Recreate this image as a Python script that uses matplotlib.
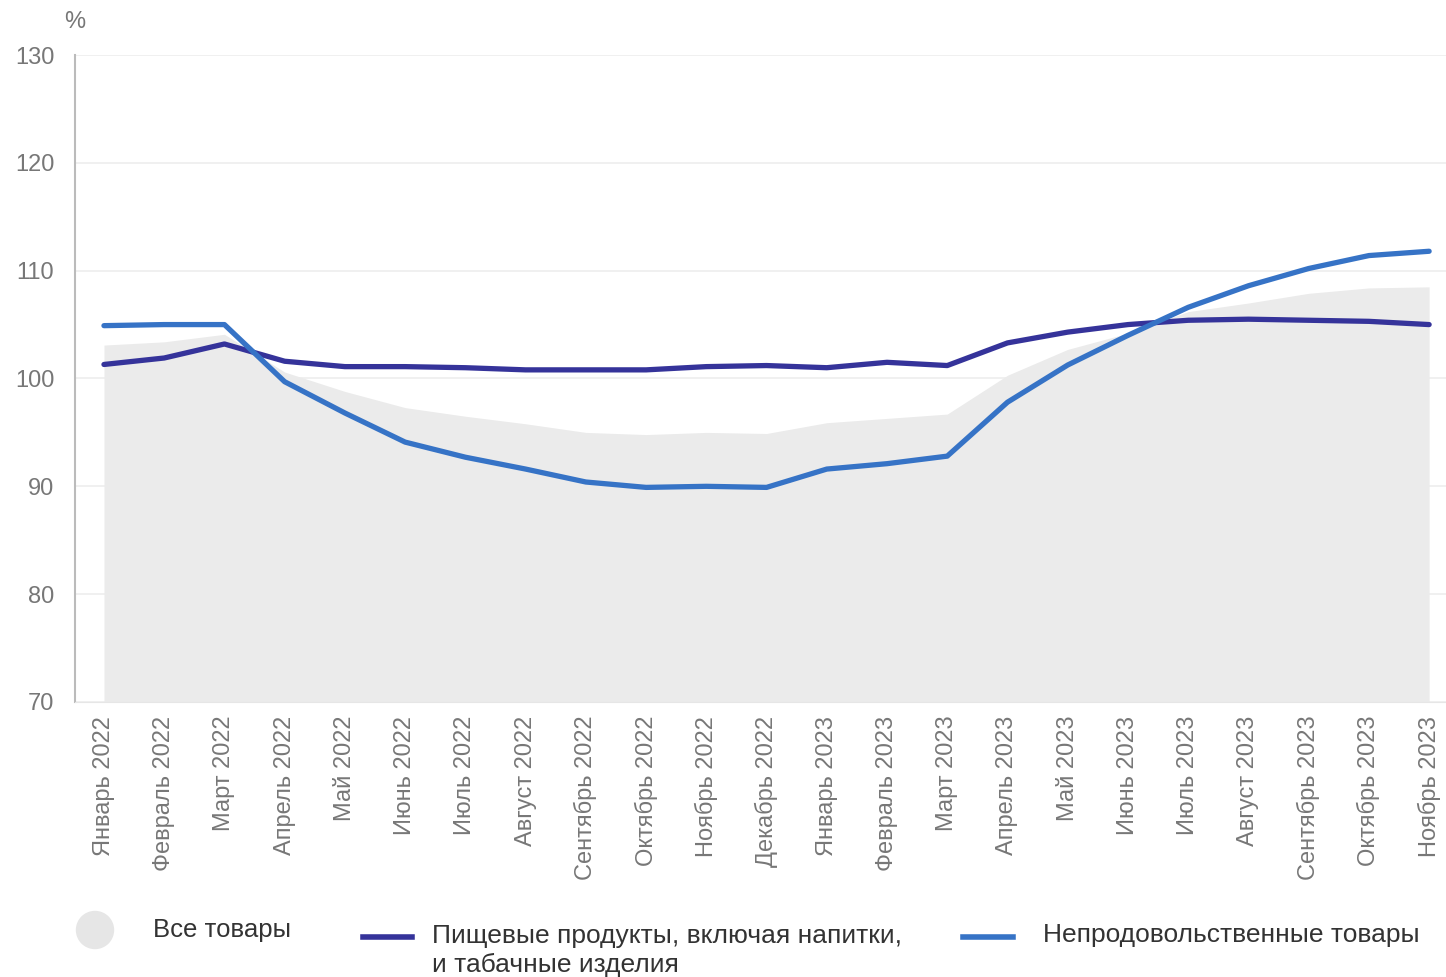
import matplotlib.pyplot as plt
from matplotlib.lines import Line2D
from matplotlib.patches import Ellipse

plt.rcParams['font.family'] = ['Liberation Sans', 'DejaVu Sans']

# Месяцы
meses = ['Январь 2022', 'Февраль 2022', 'Март 2022', 'Апрель 2022', 'Май 2022',
         'Июнь 2022', 'Июль 2022', 'Август 2022', 'Сентябрь 2022', 'Октябрь 2022',
         'Ноябрь 2022', 'Декабрь 2022', 'Январь 2023', 'Февраль 2023', 'Март 2023',
         'Апрель 2023', 'Май 2023', 'Июнь 2023', 'Июль 2023', 'Август 2023',
         'Сентябрь 2023', 'Октябрь 2023', 'Ноябрь 2023']

# Все товары (область)
todos = [103.1, 103.4, 104.1, 100.6, 98.8, 97.3, 96.5, 95.8, 95.0, 94.8, 95.0, 94.9,
         95.9, 96.3, 96.7, 100.3, 102.7, 104.2, 106.2, 107.0, 107.9, 108.4, 108.5]

# Пищевые продукты
alimentos = [101.3, 101.9, 103.2, 101.6, 101.1, 101.1, 101.0, 100.8, 100.8, 100.8,
             101.1, 101.2, 101.0, 101.5, 101.2, 103.3, 104.3, 105.0, 105.4, 105.5,
             105.4, 105.3, 105.0]

# Непродовольственные товары
no_alimentos = [104.9, 105.0, 105.0, 99.7, 96.8, 94.1, 92.7, 91.6, 90.4, 89.9, 90.0,
                89.9, 91.6, 92.1, 92.8, 97.8, 101.25, 104.0, 106.6, 108.6, 110.2,
                111.4, 111.8]

c_area = '#ebebeb'
c_food = '#35339a'
c_nonfood = '#3673c6'
c_tick = '#777777'
c_text = '#333333'

fig = plt.figure(figsize=(14.46, 9.77), dpi=100)
ax = fig.add_axes([0.0519, 0.2815, 0.9481, 0.6622])

x = list(range(len(meses)))
ax.fill_between(x, 70, todos, color=c_area, linewidth=0, zorder=1)
ax.plot(x, alimentos, color=c_food, linewidth=3.8, solid_capstyle='round', zorder=3)
ax.plot(x, no_alimentos, color=c_nonfood, linewidth=3.8, solid_capstyle='round', zorder=4)

ax.set_ylim(70, 130)
ax.set_xlim(-0.48, 22.28)
ax.set_yticks(range(70, 131, 10))
ax.grid(axis='y', color='#eeeeee', linewidth=1.2, zorder=0)
ax.set_axisbelow(True)
ax.set_xticks(x)
ax.set_xticklabels(meses, rotation=90, fontsize=17, color=c_tick)
ax.tick_params(axis='y', labelsize=17, labelcolor=c_tick, length=0, pad=15)
ax.tick_params(axis='x', length=0, pad=10)
for s in ['top', 'right']:
    ax.spines[s].set_visible(False)
ax.spines['left'].set_color('#bbbbbb')
ax.spines['left'].set_linewidth(1.5)
ax.spines['bottom'].set_color('#e6e6e6')

fig.text(75 / 1446, 1 - 22 / 977, '%', fontsize=17, color=c_tick, ha='center', va='center')

# Leyenda manual
fig.add_artist(Ellipse((95 / 1446, 1 - 930 / 977), 37 / 1446, 37 / 977, color='#e6e6e6',
                       transform=fig.transFigure))
fig.text(153 / 1446, 1 - 930 / 977, 'Все товары', fontsize=18.5, color=c_text, va='center')
fig.add_artist(Line2D([363 / 1446, 412 / 1446], [1 - 937 / 977] * 2, color=c_food,
                      linewidth=4, transform=fig.transFigure))
fig.text(432 / 1446, 1 - 924 / 977, 'Пищевые продукты, включая напитки,\nи табачные изделия',
         fontsize=19, color=c_text, va='top', linespacing=1.28)
fig.add_artist(Line2D([963 / 1446, 1013 / 1446], [1 - 937 / 977] * 2, color=c_nonfood,
                      linewidth=4, transform=fig.transFigure))
fig.text(1043 / 1446, 1 - 935 / 977, 'Непродовольственные товары', fontsize=19,
         color=c_text, va='center')

fig.savefig('out.png', dpi=100)
